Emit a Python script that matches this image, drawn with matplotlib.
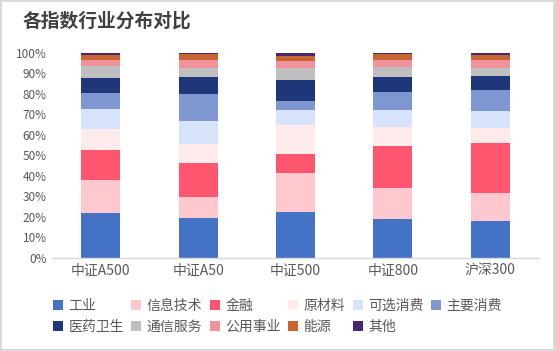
import matplotlib
matplotlib.use('Agg')
import matplotlib.pyplot as plt
import numpy as np
from matplotlib.ticker import PercentFormatter

plt.rcParams['font.family'] = ['Noto Sans CJK SC', 'DejaVu Sans']

# 各指数行业权重（%）
indices = ['中证A500', '中证A50', '中证500', '中证800', '沪深300']
sectors = ['工业', '信息技术', '金融', '原材料', '可选消费', '主要消费',
           '医药卫生', '通信服务', '公用事业', '能源', '其他']

gongye   = [22.0, 19.5, 22.4, 19.0, 18.1]
xinxi    = [16.0, 10.2, 19.0, 15.1, 13.6]
jinrong  = [14.6, 16.5, 9.2, 20.4, 24.2]
yuancl   = [10.2, 9.2, 14.5, 9.2, 7.3]
kexuan   = [9.7, 11.2, 7.3, 8.3, 8.3]
zhuyao   = [7.8, 13.5, 4.4, 9.2, 10.6]
yiyao    = [7.7, 8.3, 10.2, 7.3, 6.8]
tongxin  = [5.8, 4.4, 5.8, 4.9, 3.9]
gongyong = [2.9, 3.9, 3.4, 3.4, 3.9]
nengyuan = [2.5, 2.9, 2.4, 2.5, 2.5]
qita     = [0.8, 0.4, 1.4, 0.7, 0.8]

series = [gongye, xinxi, jinrong, yuancl, kexuan, zhuyao,
          yiyao, tongxin, gongyong, nengyuan, qita]
colors = ['#4472C4', '#FFC7CE', '#FF5670', '#FFEAEC', '#D6E3FB', '#7F97D0',
          '#1F3778', '#BFBFBF', '#F0939C', '#C8642F', '#45286E']

fig = plt.figure(figsize=(5.55, 3.51), dpi=100)
fig.patch.set_edgecolor('#D9D9D9')
fig.patch.set_linewidth(1.5)
ax = fig.add_axes([0.094, 0.265, 0.877, 0.584])

x = np.arange(len(indices))
bottom = np.zeros(len(indices))
for name, vals, c in zip(sectors, series, colors):
    v = np.array(vals) / 100
    ax.bar(x, v, 0.4, bottom=bottom, color=c, label=name)
    bottom += v

ax.set_xlim(-0.5, len(indices) - 0.5)
ax.set_ylim(0, 1)
ax.set_yticks(np.arange(0, 1.01, 0.1))
ax.yaxis.set_major_formatter(PercentFormatter(1.0, decimals=0))
ax.set_xticks(x)
ax.set_xticklabels(indices)
ax.tick_params(axis='y', length=0, labelsize=8.5, colors='#595959', pad=4)
ax.tick_params(axis='x', length=0, labelsize=10, colors='#595959', pad=4)
for s in ['top', 'right', 'left']:
    ax.spines[s].set_visible(False)
ax.spines['bottom'].set_color('#D9D9D9')
ax.spines['bottom'].set_linewidth(1)

fig.text(0.04, 0.94, '各指数行业分布对比', fontsize=13.5, fontweight='bold',
         color='#404040', va='center', ha='left')

# legend laid out row by row like the original
h, l = ax.get_legend_handles_labels()
order = [0, 6, 1, 7, 2, 8, 3, 9, 4, 10, 5]
fig.legend([h[i] for i in order], [l[i] for i in order],
           loc='center', bbox_to_anchor=(0.5, 0.098), ncol=6, frameon=False,
           fontsize=10, labelcolor='#595959', handlelength=0.7, handleheight=0.7,
           handletextpad=0.4, columnspacing=0.55, labelspacing=0.5)

fig.savefig('out.png', dpi=100, edgecolor=fig.get_edgecolor())
